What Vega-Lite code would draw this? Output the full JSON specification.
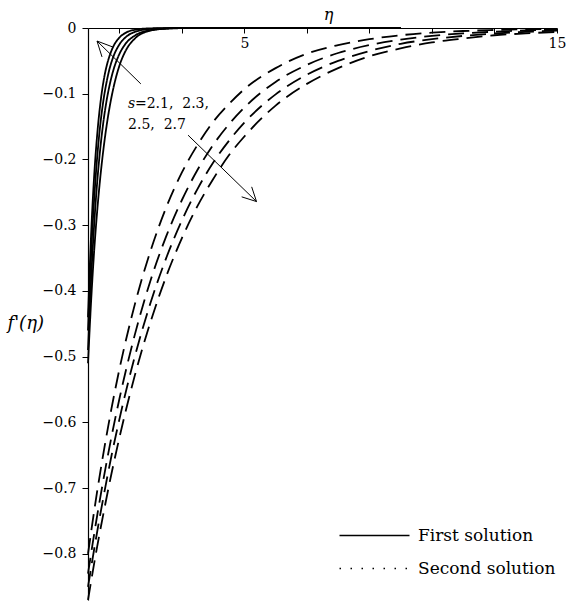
{
"$schema": "https://vega.github.io/schema/vega-lite/v6.json",
"width": 469, "height": 572,
"autosize": {"type": "none"},
"padding": {"left": 88, "top": 28, "right": 10, "bottom": 4},
"background": "white",
"config": {"view": {"stroke": null}, "font": "DejaVu Serif",
"axis": {"labelFont": "DejaVu Serif", "labelFontSize": 14, "labelColor": "black", "labelFlush": false, "labelOverlap": false, "tickColor": "black", "tickWidth": 1, "domainColor": "black", "domainWidth": 1.2, "grid": false, "titleFont": "DejaVu Serif", "titleFontStyle": "italic", "titleFontWeight": "normal", "titleColor": "black"}},
"resolve": {"scale": {"strokeDash": "independent"}},
"datasets": {
"curves": [
{"id":"S1","sol":"First solution","x":0,"y":-0.44},{"id":"S1","sol":"First solution","x":0.1,"y":-0.313},{"id":"S1","sol":"First solution","x":0.2,"y":-0.223},{"id":"S1","sol":"First solution","x":0.3,"y":-0.159},{"id":"S1","sol":"First solution","x":0.4,"y":-0.113},{"id":"S1","sol":"First solution","x":0.5,"y":-0.080},{"id":"S1","sol":"First solution","x":0.6,"y":-0.057},{"id":"S1","sol":"First solution","x":0.7,"y":-0.041},{"id":"S1","sol":"First solution","x":0.8,"y":-0.029},{"id":"S1","sol":"First solution","x":1.0,"y":-0.0147},{"id":"S1","sol":"First solution","x":1.2,"y":-0.0074},{"id":"S1","sol":"First solution","x":1.5,"y":-0.0027},{"id":"S1","sol":"First solution","x":2,"y":-0.0005},{"id":"S1","sol":"First solution","x":3,"y":0},{"id":"S1","sol":"First solution","x":10,"y":0},
{"id":"S2","sol":"First solution","x":0,"y":-0.46},{"id":"S2","sol":"First solution","x":0.1,"y":-0.344},{"id":"S2","sol":"First solution","x":0.2,"y":-0.258},{"id":"S2","sol":"First solution","x":0.3,"y":-0.193},{"id":"S2","sol":"First solution","x":0.4,"y":-0.144},{"id":"S2","sol":"First solution","x":0.5,"y":-0.108},{"id":"S2","sol":"First solution","x":0.6,"y":-0.081},{"id":"S2","sol":"First solution","x":0.7,"y":-0.060},{"id":"S2","sol":"First solution","x":0.8,"y":-0.045},{"id":"S2","sol":"First solution","x":1.0,"y":-0.0253},{"id":"S2","sol":"First solution","x":1.2,"y":-0.0142},{"id":"S2","sol":"First solution","x":1.5,"y":-0.0059},{"id":"S2","sol":"First solution","x":2,"y":-0.0014},{"id":"S2","sol":"First solution","x":2.5,"y":-0.0003},{"id":"S2","sol":"First solution","x":3,"y":0},{"id":"S2","sol":"First solution","x":10,"y":0},
{"id":"S3","sol":"First solution","x":0,"y":-0.49},{"id":"S3","sol":"First solution","x":0.1,"y":-0.382},{"id":"S3","sol":"First solution","x":0.2,"y":-0.297},{"id":"S3","sol":"First solution","x":0.3,"y":-0.231},{"id":"S3","sol":"First solution","x":0.4,"y":-0.180},{"id":"S3","sol":"First solution","x":0.5,"y":-0.140},{"id":"S3","sol":"First solution","x":0.6,"y":-0.109},{"id":"S3","sol":"First solution","x":0.7,"y":-0.085},{"id":"S3","sol":"First solution","x":0.8,"y":-0.066},{"id":"S3","sol":"First solution","x":1.0,"y":-0.040},{"id":"S3","sol":"First solution","x":1.2,"y":-0.024},{"id":"S3","sol":"First solution","x":1.5,"y":-0.0115},{"id":"S3","sol":"First solution","x":2,"y":-0.0033},{"id":"S3","sol":"First solution","x":2.5,"y":-0.0009},{"id":"S3","sol":"First solution","x":3,"y":-0.0003},{"id":"S3","sol":"First solution","x":10,"y":0},
{"id":"S4","sol":"First solution","x":0,"y":-0.51},{"id":"S4","sol":"First solution","x":0.1,"y":-0.415},{"id":"S4","sol":"First solution","x":0.2,"y":-0.337},{"id":"S4","sol":"First solution","x":0.3,"y":-0.275},{"id":"S4","sol":"First solution","x":0.4,"y":-0.224},{"id":"S4","sol":"First solution","x":0.5,"y":-0.182},{"id":"S4","sol":"First solution","x":0.6,"y":-0.147},{"id":"S4","sol":"First solution","x":0.7,"y":-0.118},{"id":"S4","sol":"First solution","x":0.8,"y":-0.094},{"id":"S4","sol":"First solution","x":1.0,"y":-0.058},{"id":"S4","sol":"First solution","x":1.2,"y":-0.035},{"id":"S4","sol":"First solution","x":1.5,"y":-0.016},{"id":"S4","sol":"First solution","x":2,"y":-0.004},{"id":"S4","sol":"First solution","x":2.5,"y":-0.001},{"id":"S4","sol":"First solution","x":3,"y":0},{"id":"S4","sol":"First solution","x":10,"y":0},
{"id":"D1","sol":"Second solution","x":0,"y":-0.800},{"id":"D1","sol":"Second solution","x":0.25,"y":-0.718},{"id":"D1","sol":"Second solution","x":0.5,"y":-0.645},{"id":"D1","sol":"Second solution","x":0.75,"y":-0.579},{"id":"D1","sol":"Second solution","x":1,"y":-0.520},{"id":"D1","sol":"Second solution","x":1.5,"y":-0.420},{"id":"D1","sol":"Second solution","x":2,"y":-0.339},{"id":"D1","sol":"Second solution","x":2.5,"y":-0.273},{"id":"D1","sol":"Second solution","x":3,"y":-0.220},{"id":"D1","sol":"Second solution","x":3.5,"y":-0.178},{"id":"D1","sol":"Second solution","x":4,"y":-0.143},{"id":"D1","sol":"Second solution","x":4.5,"y":-0.116},{"id":"D1","sol":"Second solution","x":5,"y":-0.093},{"id":"D1","sol":"Second solution","x":6,"y":-0.061},{"id":"D1","sol":"Second solution","x":7,"y":-0.039},{"id":"D1","sol":"Second solution","x":8,"y":-0.026},{"id":"D1","sol":"Second solution","x":9,"y":-0.017},{"id":"D1","sol":"Second solution","x":10,"y":-0.011},{"id":"D1","sol":"Second solution","x":11,"y":-0.007},{"id":"D1","sol":"Second solution","x":12,"y":-0.0046},{"id":"D1","sol":"Second solution","x":13,"y":-0.0030},{"id":"D1","sol":"Second solution","x":14,"y":-0.0019},{"id":"D1","sol":"Second solution","x":15,"y":-0.0013},
{"id":"D2","sol":"Second solution","x":0,"y":-0.830},{"id":"D2","sol":"Second solution","x":0.25,"y":-0.754},{"id":"D2","sol":"Second solution","x":0.5,"y":-0.685},{"id":"D2","sol":"Second solution","x":0.75,"y":-0.622},{"id":"D2","sol":"Second solution","x":1,"y":-0.565},{"id":"D2","sol":"Second solution","x":1.5,"y":-0.466},{"id":"D2","sol":"Second solution","x":2,"y":-0.384},{"id":"D2","sol":"Second solution","x":2.5,"y":-0.317},{"id":"D2","sol":"Second solution","x":3,"y":-0.262},{"id":"D2","sol":"Second solution","x":3.5,"y":-0.216},{"id":"D2","sol":"Second solution","x":4,"y":-0.178},{"id":"D2","sol":"Second solution","x":4.5,"y":-0.147},{"id":"D2","sol":"Second solution","x":5,"y":-0.121},{"id":"D2","sol":"Second solution","x":6,"y":-0.082},{"id":"D2","sol":"Second solution","x":7,"y":-0.056},{"id":"D2","sol":"Second solution","x":8,"y":-0.038},{"id":"D2","sol":"Second solution","x":9,"y":-0.026},{"id":"D2","sol":"Second solution","x":10,"y":-0.0177},{"id":"D2","sol":"Second solution","x":11,"y":-0.012},{"id":"D2","sol":"Second solution","x":12,"y":-0.0082},{"id":"D2","sol":"Second solution","x":13,"y":-0.0056},{"id":"D2","sol":"Second solution","x":14,"y":-0.0038},{"id":"D2","sol":"Second solution","x":15,"y":-0.0026},
{"id":"D3","sol":"Second solution","x":0,"y":-0.850},{"id":"D3","sol":"Second solution","x":0.25,"y":-0.778},{"id":"D3","sol":"Second solution","x":0.5,"y":-0.712},{"id":"D3","sol":"Second solution","x":0.75,"y":-0.651},{"id":"D3","sol":"Second solution","x":1,"y":-0.596},{"id":"D3","sol":"Second solution","x":1.5,"y":-0.499},{"id":"D3","sol":"Second solution","x":2,"y":-0.418},{"id":"D3","sol":"Second solution","x":2.5,"y":-0.350},{"id":"D3","sol":"Second solution","x":3,"y":-0.293},{"id":"D3","sol":"Second solution","x":3.5,"y":-0.245},{"id":"D3","sol":"Second solution","x":4,"y":-0.205},{"id":"D3","sol":"Second solution","x":4.5,"y":-0.172},{"id":"D3","sol":"Second solution","x":5,"y":-0.144},{"id":"D3","sol":"Second solution","x":6,"y":-0.101},{"id":"D3","sol":"Second solution","x":7,"y":-0.071},{"id":"D3","sol":"Second solution","x":8,"y":-0.050},{"id":"D3","sol":"Second solution","x":9,"y":-0.035},{"id":"D3","sol":"Second solution","x":10,"y":-0.024},{"id":"D3","sol":"Second solution","x":11,"y":-0.017},{"id":"D3","sol":"Second solution","x":12,"y":-0.012},{"id":"D3","sol":"Second solution","x":13,"y":-0.0084},{"id":"D3","sol":"Second solution","x":14,"y":-0.0059},{"id":"D3","sol":"Second solution","x":15,"y":-0.0041},
{"id":"D4","sol":"Second solution","x":0,"y":-0.870},{"id":"D4","sol":"Second solution","x":0.25,"y":-0.800},{"id":"D4","sol":"Second solution","x":0.5,"y":-0.737},{"id":"D4","sol":"Second solution","x":0.75,"y":-0.678},{"id":"D4","sol":"Second solution","x":1,"y":-0.624},{"id":"D4","sol":"Second solution","x":1.5,"y":-0.528},{"id":"D4","sol":"Second solution","x":2,"y":-0.447},{"id":"D4","sol":"Second solution","x":2.5,"y":-0.378},{"id":"D4","sol":"Second solution","x":3,"y":-0.320},{"id":"D4","sol":"Second solution","x":3.5,"y":-0.271},{"id":"D4","sol":"Second solution","x":4,"y":-0.230},{"id":"D4","sol":"Second solution","x":4.5,"y":-0.194},{"id":"D4","sol":"Second solution","x":5,"y":-0.165},{"id":"D4","sol":"Second solution","x":6,"y":-0.118},{"id":"D4","sol":"Second solution","x":7,"y":-0.085},{"id":"D4","sol":"Second solution","x":8,"y":-0.061},{"id":"D4","sol":"Second solution","x":9,"y":-0.043},{"id":"D4","sol":"Second solution","x":10,"y":-0.031},{"id":"D4","sol":"Second solution","x":11,"y":-0.022},{"id":"D4","sol":"Second solution","x":12,"y":-0.016},{"id":"D4","sol":"Second solution","x":13,"y":-0.011},{"id":"D4","sol":"Second solution","x":14,"y":-0.0082},{"id":"D4","sol":"Second solution","x":15,"y":-0.0059}
],
"legendrows": [
{"sol":"First solution","x":0,"y":0},
{"sol":"Second solution","x":0,"y":0}
],
"arrows": [
{"g":"a1s","o":1,"x":1.69,"y":-0.085},{"g":"a1s","o":2,"x":0.288,"y":-0.0198},
{"g":"a1h","o":1,"x":0.80,"y":-0.029},{"g":"a1h","o":2,"x":0.288,"y":-0.0198},{"g":"a1h","o":3,"x":0.448,"y":-0.044},
{"g":"a2s","o":1,"x":3.20,"y":-0.163},{"g":"a2s","o":2,"x":5.39,"y":-0.264},
{"g":"a2h","o":1,"x":4.915,"y":-0.2568},{"g":"a2h","o":2,"x":5.39,"y":-0.264},{"g":"a2h","o":3,"x":5.235,"y":-0.2416}
],
"labels": [
{"t":"s","x":1.28,"y":-0.116,"it":true},
{"t":"=2.1,\u00a0 2.3,","x":1.5,"y":-0.116,"it":false},
{"t":"2.5,\u00a0 2.7","x":1.28,"y":-0.148,"it":false}
]
},
"layer": [
{
"data": {"name": "curves"},
"mark": {"type": "line", "color": "black", "strokeWidth": 1.8, "interpolate": "monotone"},
"encoding": {
"x": {"field": "x", "type": "quantitative",
"scale": {"domain": [0, 15], "nice": false, "zero": false},
"axis": {"orient": "bottom", "offset": -572, "values": [1,2,3,4,5,6,7,8,9,10,11,12,13,14,15],
"labelExpr": "datum.value % 5 == 0 ? datum.label : ''",
"title": "η", "titleX": 240, "titleY": -9, "titleBaseline": "alphabetic", "titleFontSize": 16,
"labelPadding": 3, "tickSize": 5}},
"y": {"field": "y", "type": "quantitative",
"scale": {"domain": [-0.87, 0], "nice": false, "zero": false},
"axis": {"values": [0,-0.1,-0.2,-0.3,-0.4,-0.5,-0.6,-0.7,-0.8],
"format": "~g",
"title": "f'(η)", "titleAngle": 0, "titleAlign": "left", "titleX": -81, "titleY": 295, "titleBaseline": "middle", "titleFontSize": 18,
"labelPadding": 6, "tickSize": 6}},
"detail": {"field": "id"},
"strokeDash": {"field": "sol", "type": "nominal",
"scale": {"domain": ["First solution", "Second solution"], "range": [[1, 0], [16, 8]]},
"legend": null}
}
},
{
"data": {"name": "legendrows"},
"mark": {"type": "line", "color": "black", "strokeWidth": 1.3},
"encoding": {
"x": {"field": "x", "type": "quantitative"},
"y": {"field": "y", "type": "quantitative"},
"strokeDash": {"field": "sol", "type": "nominal",
"scale": {"domain": ["First solution", "Second solution"], "range": [[1, 0], [1.5, 9.5]]},
"legend": {"orient": "none", "legendX": 278, "legendY": 499, "title": null, "symbolType": "M-5,0H5", "symbolSize": 196, "symbolStrokeWidth": 1.3, "symbolStrokeColor": "black", "symbolFillColor": "transparent",
"labelFont": "DejaVu Serif", "labelFontSize": 17, "labelColor": "black", "labelOffset": 35, "rowPadding": 15}}
}
},
{
"data": {"name": "arrows"},
"mark": {"type": "line", "color": "black", "strokeWidth": 1},
"encoding": {
"x": {"field": "x", "type": "quantitative"},
"y": {"field": "y", "type": "quantitative"},
"detail": {"field": "g"},
"order": {"field": "o"}
}
},
{
"data": {"name": "labels"},
"transform": [{"filter": "datum.it"}],
"mark": {"type": "text", "align": "left", "baseline": "middle", "font": "DejaVu Serif", "fontSize": 14, "fontStyle": "italic", "color": "black"},
"encoding": {
"x": {"field": "x", "type": "quantitative"},
"y": {"field": "y", "type": "quantitative"},
"text": {"field": "t"}
}
},
{
"data": {"name": "labels"},
"transform": [{"filter": "!datum.it"}],
"mark": {"type": "text", "align": "left", "baseline": "middle", "font": "DejaVu Serif", "fontSize": 14, "color": "black"},
"encoding": {
"x": {"field": "x", "type": "quantitative"},
"y": {"field": "y", "type": "quantitative"},
"text": {"field": "t"}
}
}
]
}
